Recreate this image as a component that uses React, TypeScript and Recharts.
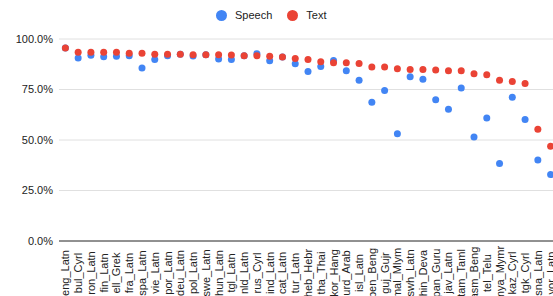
import React from 'react';
import { ComposedChart, Line, XAxis, YAxis, CartesianGrid, Legend } from 'recharts';

// language codes along the x axis
const langs = [
  'eng_Latn', 'bul_Cyrl', 'ron_Latn', 'fin_Latn', 'ell_Grek', 'fra_Latn', 'spa_Latn', 'vie_Latn',
  'por_Latn', 'deu_Latn', 'pol_Latn', 'swe_Latn', 'hun_Latn', 'tgl_Latn', 'nld_Latn', 'rus_Cyrl',
  'ind_Latn', 'cat_Latn', 'tur_Latn', 'heb_Hebr', 'tha_Thai', 'kor_Hang', 'urd_Arab', 'isl_Latn',
  'ben_Beng', 'guj_Gujr', 'mal_Mlym', 'swh_Latn', 'hin_Deva', 'pan_Guru', 'jav_Latn', 'tam_Taml',
  'asm_Beng', 'tel_Telu', 'mya_Mymr', 'kaz_Cyrl', 'tgk_Cyrl', 'sna_Latn', 'yor_Latn',
];

// accuracy in percent
const speech = [
  95.5, 90.6, 91.9, 91.2, 91.4, 91.7, 85.6, 89.9,
  91.7, 92.4, 91.6, 92.2, 90.1, 89.9, 91.7, 92.7,
  89.2, 91.1, 87.7, 83.9, 86.4, 89.4, 84.3, 79.6,
  68.7, 74.5, 53.1, 81.3, 80.1, 69.9, 65.2, 75.8,
  51.5, 60.9, 38.4, 71.2, 60.1, 40.1, 32.9,
];
const text = [
  95.5, 93.5, 93.5, 93.4, 93.4, 92.9, 92.9, 92.5,
  92.5, 92.4, 92.2, 92.2, 92.2, 92.1, 91.7, 91.7,
  91.4, 91.1, 90.4, 89.9, 88.7, 88.2, 88.2, 87.9,
  86.1, 86.1, 85.3, 84.9, 84.9, 84.6, 84.3, 84.3,
  82.8, 82.3, 79.6, 79.0, 78.0, 55.3, 46.9,
];

const yTicks = [0, 0.25, 0.5, 0.75, 1];

const data = langs.map((name, i) => ({
  name,
  speech: speech[i] / 100,
  text: text[i] / 100,
}));

const BLUE = '#4285F4';
const RED = '#EA4335';
const FONT = '"Liberation Sans", Arial, sans-serif';

const XTick = ({ x, y, payload }: any) => (
  <text
    x={x}
    y={y + 24}
    transform={`rotate(-90, ${x}, ${y + 24})`}
    textAnchor="middle"
    dominantBaseline="central"
    fontSize={11}
    fontFamily={FONT}
    fill="#222"
  >
    {payload.value}
  </text>
);

const LegendContent = () => (
  <div
    style={{
      display: 'flex',
      alignItems: 'center',
      height: 30,
      paddingLeft: 216,
      fontFamily: FONT,
      fontSize: 11,
      color: '#222',
    }}
  >
    {[
      { label: 'Speech', color: BLUE },
      { label: 'Text', color: RED },
    ].map((it) => (
      <div key={it.label} style={{ display: 'flex', alignItems: 'center', marginRight: 15 }}>
        <span
          style={{
            width: 11,
            height: 11,
            borderRadius: '50%',
            background: it.color,
            display: 'inline-block',
            marginRight: 8,
          }}
        />
        <span>{it.label}</span>
      </div>
    ))}
  </div>
);

export default function App() {
  return (
    <div
      style={{
        position: 'absolute',
        left: 0,
        top: 0,
        width: 553,
        height: 296,
        overflow: 'hidden',
        background: '#fff',
      }}
    >
      <ComposedChart
        width={562}
        height={296}
        data={data}
        margin={{ top: 9, right: 5, left: 0, bottom: 0 }}
      >
        <CartesianGrid vertical={false} stroke="#e0e0e0" />
        <XAxis
          dataKey="name"
          scale="band"
          interval={0}
          height={55}
          tickLine={false}
          axisLine={{ stroke: '#333' }}
          tick={<XTick />}
        />
        <YAxis
          width={59}
          domain={[0, 1]}
          ticks={yTicks}
          tickLine={false}
          axisLine={false}
          tickMargin={0}
          tickFormatter={(v: number) => `${(v * 100).toFixed(1)}%`}
          tick={{ fontSize: 11, fontFamily: FONT, fill: '#222' }}
        />
        <Legend
          verticalAlign="top"
          height={30}
          wrapperStyle={{ top: 0, left: 0, width: 553 }}
          content={<LegendContent />}
        />
        {/* dots only, no connecting line */}
        <Line
          dataKey="speech"
          name="Speech"
          stroke="none"
          dot={{ r: 3.5, fill: BLUE, stroke: 'none' }}
          activeDot={false}
          isAnimationActive={false}
        />
        <Line
          dataKey="text"
          name="Text"
          stroke="none"
          dot={{ r: 3.5, fill: RED, stroke: 'none' }}
          activeDot={false}
          isAnimationActive={false}
        />
      </ComposedChart>
    </div>
  );
}
